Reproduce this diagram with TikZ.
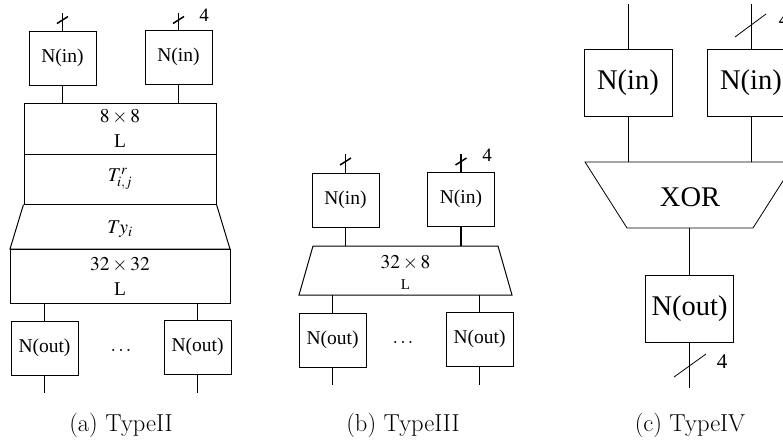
\documentclass[tikz,border=0pt]{standalone}
\usepackage{mathptmx}
\usepackage{fontspec}
\setmainfont{Liberation Serif}
\newfontfamily\tnr{Liberation Serif}
\newfontfamily\lmr{Latin Modern Roman}
\usetikzlibrary{calc}
\tikzset{
  fa/.style={font=\tnr\fontsize{19.5}{25}\selectfont},
  fc/.style={font=\tnr\fontsize{28.5}{32}\selectfont},
  box/.style={draw, line width=1pt, minimum width=67pt, minimum height=54pt, inner sep=0pt, fa},
  cbox/.style={draw, line width=0.8pt, minimum width=88pt, minimum height=67pt, inner sep=0pt, fc},
  wire/.style={line width=1.5pt},
  cwire/.style={line width=0.8pt},
  outline/.style={line width=1pt, line join=miter},
  lab/.style={inner sep=0pt, fa},
  captext/.style={inner sep=0pt, font=\lmr\fontsize{24.5}{28}\selectfont}
}
\begin{document}
\begin{tikzpicture}[x=1pt,y=-1pt]
\useasboundingbox (0,0) rectangle (783,445);
\clip (0,0) rectangle (783,445);
% ---------------- (a) TypeII ----------------
\node[box] (ain1) at (62.5,58) {N(in)};
\node[box] (ain2) at (178.5,57) {N(in)};
\node[box, minimum width=192pt, minimum height=51pt, align=center] (aL1) at (120,128.5) {$8\times 8$\\L};
\node[box, minimum width=192pt, minimum height=50pt] (aT) at (120,179) {$T^{r}_{i,j}$};
\draw[outline] (aT.south west) -- (10,249) -- (230,249) -- (aT.south east);
\node[lab] (aTy) at (120,229) {$Ty_i$};
\node[box, minimum width=220pt, minimum height=54pt, align=center] (aL2) at (120,276) {$32\times 32$\\L};
\node[box] (aout1) at (44.5,348) {N(out)};
\node[box] (aout2) at (197.5,347) {N(out)};
\node[lab] (adots) at (121,350) {$\dots$};
\coordinate (at1) at (62.5,13);
\coordinate (at2) at (178.5,13);
\draw[wire] (at1) -- (ain1.north);
\draw[wire] (at2) -- (ain2.north);
\draw[wire] ($(at1)+(-5.5,10.5)$) -- ++(11,-7);
\draw[wire] ($(at2)+(-5.5,10.5)$) -- ++(11,-7);
\node[lab, font=\tnr\fontsize{19}{20}\selectfont] (a4) at (204,15) {4};
\draw[wire] (ain1.south) -- (ain1.south |- aL1.north);
\draw[wire] (ain2.south) -- (ain2.south |- aL1.north);
\draw[wire] (aout1.north |- aL2.south) -- (aout1.north);
\draw[wire] (aout2.north |- aL2.south) -- (aout2.north);
\coordinate (ab1) at (44.5,393);
\coordinate (ab2) at (197.5,393);
\draw[wire] (aout1.south) -- (ab1);
\draw[wire] (aout2.south) -- (ab2);
\node[captext] (acap) at (121,425) {(a) TypeII};
% ---------------- (b) TypeIII ----------------
\node[box] (bin1) at (345.5,200) {N(in)};
\node[box] (bin2) at (461,199) {N(in)};
\coordinate (btT) at (405.5,246);
\coordinate (btB) at (405.5,295);
\draw[outline] (313,246) -- (498,246) -- (512,295) -- (299,295) -- cycle;
\node[lab] (b328) at (405.5,263) {$32\times 8$};
\node[lab, font=\tnr\fontsize{15}{17}\selectfont] (bL) at (405.5,285) {L};
\node[box] (bout1) at (332.5,340) {N(out)};
\node[box] (bout2) at (479.5,339) {N(out)};
\node[lab] (bdots) at (403,342) {$\dots$};
\coordinate (bt1) at (345.5,154);
\coordinate (bt2) at (461,154);
\draw[wire] (bt1) -- (bin1.north);
\draw[wire] (bt2) -- (bin2.north);
\draw[wire] ($(bt1)+(-5.5,11)$) -- ++(11,-7);
\draw[wire] ($(bt2)+(-5.5,11)$) -- ++(11,-7);
\node[lab, font=\tnr\fontsize{19}{20}\selectfont] (b4) at (487,155) {4};
\draw[wire] (bin1.south) -- (bin1.south |- btT);
\draw[wire] (bin2.south) -- (bin2.south |- btT);
\draw[wire] (bout1.north |- btB) -- (bout1.north);
\draw[wire] (bout2.north |- btB) -- (bout2.north);
\coordinate (bb1) at (332.5,385);
\coordinate (bb2) at (479.5,385);
\draw[wire] (bout1.south) -- (bb1);
\draw[wire] (bout2.south) -- (bb2);
\node[captext] (bcap) at (403,425) {(b) TypeIII};
% ---------------- (c) TypeIV ----------------
\node[cbox] (cin1) at (628,82.5) {N(in)};
\node[cbox] (cin2) at (751,82.5) {N(in)};
\coordinate (cxT) at (690,162);
\coordinate (cxB) at (690,228);
\draw[cwire] (585,162) -- (795,162) -- (753,228) -- (627,228) -- cycle;
\node[lab, fc] (cxor) at (690,197) {XOR};
\node[cbox] (cout) at (689.5,308.5) {N(out)};
\coordinate (ct1) at (628,4);
\coordinate (ct2) at (751,4);
\draw[cwire] (ct1) -- (cin1.north);
\draw[cwire] (ct2) -- (cin2.north);
\draw[cwire] (735,37) -- (766,14);
\node[lab, font=\tnr\fontsize{21}{24}\selectfont] (c4a) at (784,20) {4};
\draw[cwire] (cin1.south) -- (cin1.south |- cxT);
\draw[cwire] (cin2.south) -- (cin2.south |- cxT);
\draw[cwire] (cout.north |- cxB) -- (cout.north);
\coordinate (cb) at (689.5,388);
\draw[cwire] (cout.south) -- (cb);
\draw[cwire] (674,377) -- (706,354);
\node[lab, font=\tnr\fontsize{21}{24}\selectfont] (c4b) at (722,362) {4};
\node[captext] (ccap) at (690,425) {(c) TypeIV};
\end{tikzpicture}
\end{document}
